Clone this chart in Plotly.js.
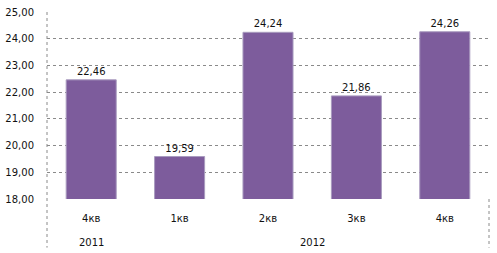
<!DOCTYPE html>
<html><head><meta charset="utf-8">
<script src="https://cdn.plot.ly/plotly-3.0.1.min.js"></script>
<style>body{margin:0;background:#fff}#c{width:497px;height:253px}</style>
</head><body><div id="c"></div>
<script>
var years = ['2011','2012','2012','2012','2012'];
var quarters = ['4кв','1кв','2кв','3кв','4кв'];
var values = [22.46, 19.59, 24.24, 21.86, 24.26];
var valueLabels = ['22,46','19,59','24,24','21,86','24,26'];

var idx = quarters.map(function(_, i){return i;});

var trace = {
  type: 'bar',
  x: idx,
  y: values,
  text: valueLabels,
  textposition: 'outside',
  textfont: {family: 'DejaVu Sans', size: 10, color: '#111'},
  cliponaxis: true,
  marker: {color: '#7d5c9c', line: {color: '#a99bbf', width: 1}},
  hoverinfo: 'none'
};

var groups = {};
years.forEach(function(y, i){ (groups[y] = groups[y] || []).push(i); });
var annotations = Object.keys(groups).map(function(y){
  var g = groups[y];
  var c = g.reduce(function(a, b){return a + b;}, 0) / g.length;
  return {x: c, xref: 'x', y: -0.23, yref: 'paper', yanchor: 'middle',
          text: y, showarrow: false,
          font: {family: 'DejaVu Sans', size: 10, color: '#111'}};
});

var layout = {
  width: 497, height: 253,
  margin: {l: 47, r: 8, t: 12, b: 54},
  paper_bgcolor: '#fff', plot_bgcolor: '#fff',
  separators: ', ',
  showlegend: false,
  bargap: 0.434,
  font: {family: 'DejaVu Sans', size: 10, color: '#111'},
  xaxis: {
    range: [-0.5, quarters.length - 0.5],
    tickvals: idx, ticktext: quarters,
    showline: false, showgrid: false, zeroline: false,
    ticks: '',
    ticklabelstandoff: 12,
    tickfont: {family: 'DejaVu Sans', size: 10, color: '#111'}
  },
  yaxis: {
    range: [18, 25],
    dtick: 1,
    tickformat: '.2f',
    showgrid: true,
    gridcolor: '#8a8a8a', griddash: 'dot', gridwidth: 1,
    showline: false, zeroline: false,
    ticks: '',
    ticklabelstandoff: 12,
    tickfont: {family: 'DejaVu Sans', size: 10, color: '#111'}
  },
  annotations: annotations,
  shapes: [
    {type: 'line', xref: 'paper', yref: 'y', x0: 0.005, x1: 1, y0: 18, y1: 18,
     layer: 'between', line: {color: '#ffffff', width: 2}},
    {type: 'line', xref: 'paper', yref: 'paper', x0: 0, x1: 0, y0: 1, y1: -0.26,
     line: {color: '#8a8a8a', width: 1, dash: 'dot'}},
    {type: 'line', xref: 'paper', yref: 'paper', x0: 1, x1: 1, y0: 0, y1: -0.26,
     line: {color: '#8a8a8a', width: 1, dash: 'dot'}}
  ]
};
Plotly.newPlot('c', [trace], layout, {displayModeBar: false, staticPlot: true});
</script></body></html>
